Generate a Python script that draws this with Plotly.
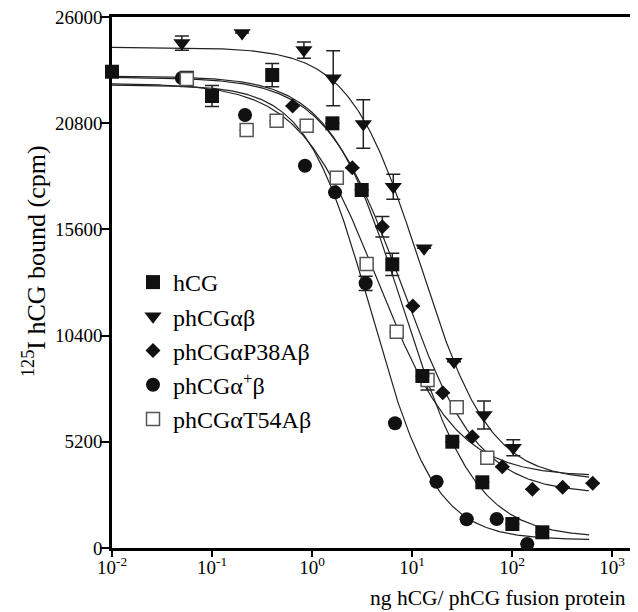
import numpy as np
import plotly.graph_objects as go

# ---- data ----
x_ticks = [0.01, 0.1, 1, 10, 100, 1000]
x_tick_labels = ["10<sup>-2</sup>", "10<sup>-1</sup>", "10<sup>0</sup>",
                 "10<sup>1</sup>", "10<sup>2</sup>", "10<sup>3</sup>"]
y_ticks = [0, 5200, 10400, 15600, 20800, 26000]
y_tick_labels = ["0", "5200", "10400", "15600", "20800", "26000"]

names = ["hCG", "phCGαβ", "phCGαP38Aβ", "phCGα<sup>+</sup>β", "phCGαT54Aβ"]

hcg_x = [0.01, 0.1, 0.4, 1.6, 3.14, 6.35, 12.7, 25.3, 50.5, 100.8, 201]
hcg_y = [23320, 22130, 23158, 20793, 17528, 13890, 8421, 5204, 3217, 1175, 769]
hcg_err = [None, 514, 570, None, None, 548, None, None, None, None, None]

ab_x = [0.05, 0.2, 0.83, 1.63, 3.26, 6.5, 13.2, 26.3, 52.5, 103]
ab_y = [24725, 25215, 24380, 23000, 20760, 17690, 14673, 9121, 6512, 4911]
ab_err = [350, None, 400, 1346, 1190, 612, None, None, 690, 390]

p38_x = [0.64, 2.53, 5.05, 10.2, 20.3, 40.1, 80, 160, 321, 641]
p38_y = [21640, 18620, 15731, 11850, 7604, 5449, 3980, 2874, 2972, 3168]
p38_err = [None, None, 506, None, None, None, None, None, None, None]

plus_x = [0.05, 0.214, 0.85, 1.7, 3.44, 6.76, 17.6, 35.2, 70.3, 142]
plus_y = [23010, 21200, 18717, 17415, 12960, 6105, 3246, 1405, 1420, 196]
plus_err = [None, None, None, None, 350, None, None, None, None, None]

t54_x = [0.056, 0.222, 0.443, 0.885, 1.77, 3.52, 7.03, 14.3, 28, 56.6]
t54_y = [22962, 20465, 20920, 20676, 18130, 13905, 10590, 8225, 6889, 4421]
t54_err = [367, None, None, None, None, None, None, 490, None, None]

# fitted sigmoid (4-parameter logistic) curve parameters
# order: hCG, phCGab, P38A, alpha+, T54A
fit_top = [23100, 24515, 23050, 22670, 22750]
fit_bottom = [500, 3300, 2650, 400, 3500]
fit_ec50 = [8.1, 12.0, 7.87, 3.9, 4.5]
fit_hill = [1.18, 1.24, 1.13, 1.35, 1.1]
fit_xmin, fit_xmax = 0.01, 590

series = [
    (hcg_x, hcg_y, hcg_err),
    (ab_x, ab_y, ab_err),
    (p38_x, p38_y, p38_err),
    (plus_x, plus_y, plus_err),
    (t54_x, t54_y, t54_err),
]

marker_styles = [
    dict(symbol="square", size=14, color="#111111", line=dict(width=0)),
    dict(symbol="triangle-down", size=15, color="#111111", line=dict(width=0)),
    dict(symbol="diamond", size=11.5, color="#111111", line=dict(width=0)),
    dict(symbol="circle", size=14, color="#111111", line=dict(width=0)),
    dict(symbol="square", size=13, color="white", line=dict(width=1.5, color="#555555")),
]

FONT = "Liberation Serif"

# The page body adds an 8 px offset; the plot area is laid out in window pixels:
# left edge at 112, bottom at 548, 531 px tall, 534 px wide (clipped on the right).
PL, PB, PH, PW = 112, 548, 531, 534
OFF = 8


def px(xw):
    return (xw - PL) / PW


def py(yw):
    return (PB - yw) / PH


fig = go.Figure()

# fitted curves
xs = np.logspace(np.log10(fit_xmin), np.log10(fit_xmax), 400)
for i in range(5):
    ys = fit_bottom[i] + (fit_top[i] - fit_bottom[i]) / (1 + (xs / fit_ec50[i]) ** fit_hill[i])
    fig.add_trace(go.Scatter(x=xs, y=ys, mode="lines", showlegend=False, hoverinfo="skip",
                             line=dict(color="#222222", width=1.2)))

# drawing order of markers: circle, open square, filled square, triangle, diamond
draw_order = [3, 4, 0, 1, 2]
for i in draw_order:
    x, y, e = series[i]
    fig.add_trace(go.Scatter(
        x=x, y=y, mode="markers", name=names[i], legendrank=i + 1,
        marker=marker_styles[i], cliponaxis=False,
        error_y=dict(type="data", array=e, visible=True, color="#222222",
                     thickness=1.5, width=7),
    ))

fig.update_layout(
    width=638, height=612,
    margin=dict(l=PL - OFF, r=0, t=PB - PH - OFF, b=612 - (PB - OFF)),
    paper_bgcolor="white", plot_bgcolor="white",
    font=dict(family=FONT, color="black"),
    showlegend=True,
    legend=dict(x=px(133), y=py(260), xanchor="left", yanchor="top",
                font=dict(family=FONT, size=24, color="black"),
                bgcolor="rgba(0,0,0,0)", tracegroupgap=0, itemwidth=30),
    xaxis=dict(type="log", range=[-2, -2 + PW / 100], tickvals=x_ticks, ticktext=x_tick_labels,
               showline=True, linecolor="black", linewidth=2.5, mirror=True,
               ticks="outside", ticklen=6, tickwidth=2, tickcolor="black",
               ticklabelstandoff=-6, ticklabeloverflow="allow",
               showgrid=False, zeroline=False, layer="below traces",
               tickfont=dict(family=FONT, size=19, color="black")),
    yaxis=dict(range=[0, 26000], tickvals=y_ticks, ticktext=y_tick_labels,
               showline=True, linecolor="black", linewidth=2.5, mirror=False,
               ticks="outside", ticklen=9, tickwidth=2, tickcolor="black",
               ticklabelstandoff=-6, ticklabeloverflow="allow",
               showgrid=False, zeroline=False, layer="below traces",
               tickfont=dict(family=FONT, size=19, color="black")),
    annotations=[
        dict(text="<sup>125</sup>I hCG bound (cpm)", textangle=-90, showarrow=False,
             xref="paper", yref="paper", x=px(34), y=py(261),
             xanchor="center", yanchor="middle",
             font=dict(family=FONT, size=26, color="black")),
        dict(text="ng hCG/ phCG fusion protein", showarrow=False,
             xref="paper", yref="paper", x=px(498), y=py(598),
             xanchor="center", yanchor="middle",
             font=dict(family=FONT, size=21.5, color="black")),
    ],
)

fig.write_html("out.html")
